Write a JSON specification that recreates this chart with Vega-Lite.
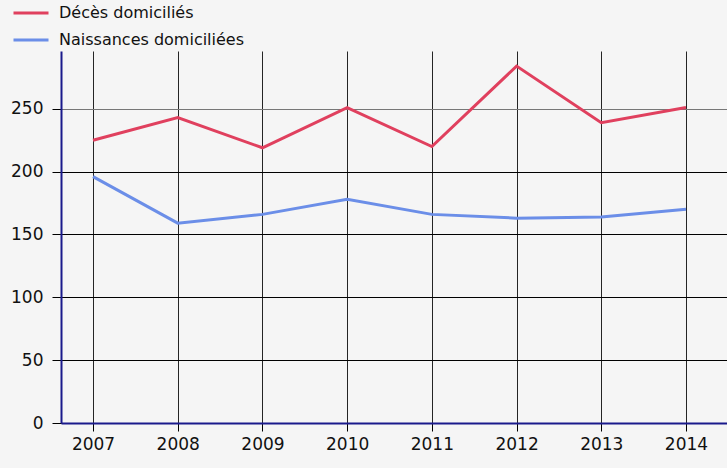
{
  "$schema": "https://vega.github.io/schema/vega-lite/v6.json",
  "autosize": "none",
  "width": 666,
  "height": 372,
  "padding": {"left": 61, "top": 51, "right": 0, "bottom": 45},
  "background": "#f5f5f5",
  "config": {
    "view": {"stroke": null},
    "font": "DejaVu Sans"
  },
  "data": {
    "values": [
      {"annee": 2007, "serie": "Décès domiciliés", "valeur": 225},
      {"annee": 2008, "serie": "Décès domiciliés", "valeur": 243},
      {"annee": 2009, "serie": "Décès domiciliés", "valeur": 219},
      {"annee": 2010, "serie": "Décès domiciliés", "valeur": 251},
      {"annee": 2011, "serie": "Décès domiciliés", "valeur": 220},
      {"annee": 2012, "serie": "Décès domiciliés", "valeur": 284},
      {"annee": 2013, "serie": "Décès domiciliés", "valeur": 239},
      {"annee": 2014, "serie": "Décès domiciliés", "valeur": 251},
      {"annee": 2007, "serie": "Naissances domiciliées", "valeur": 196},
      {"annee": 2008, "serie": "Naissances domiciliées", "valeur": 159},
      {"annee": 2009, "serie": "Naissances domiciliées", "valeur": 166},
      {"annee": 2010, "serie": "Naissances domiciliées", "valeur": 178},
      {"annee": 2011, "serie": "Naissances domiciliées", "valeur": 166},
      {"annee": 2012, "serie": "Naissances domiciliées", "valeur": 163},
      {"annee": 2013, "serie": "Naissances domiciliées", "valeur": 164},
      {"annee": 2014, "serie": "Naissances domiciliées", "valeur": 170}
    ]
  },
  "mark": {"type": "line", "strokeWidth": 3},
  "encoding": {
    "x": {
      "field": "annee",
      "type": "quantitative",
      "scale": {"domain": [2006.622, 2014.484], "nice": false, "zero": false},
      "axis": {
        "title": null,
        "values": [2007, 2008, 2009, 2010, 2011, 2012, 2013, 2014],
        "format": "d",
        "domainColor": "#1a1a8c",
        "domainWidth": 2,
        "tickColor": "#000",
        "tickSize": 8,
        "tickWidth": 1,
        "gridColor": "#000",
        "gridWidth": 1,
        "gridOpacity": 0.85,
        "labelFontSize": 17,
        "labelColor": "#111",
        "labelPadding": 5,
        "labelFlush": false
      }
    },
    "y": {
      "field": "valeur",
      "type": "quantitative",
      "scale": {"domain": [0, 296], "nice": false},
      "axis": {
        "title": null,
        "values": [0, 50, 100, 150, 200, 250],
        "domainColor": "#1a1a8c",
        "domainWidth": 2,
        "tickColor": "#000",
        "tickSize": 9,
        "gridColor": {"condition": {"test": "datum.value == 250", "value": "#777"}, "value": "#000"},
        "gridWidth": 1,
        "labelFontSize": 17,
        "labelColor": "#111",
        "labelPadding": 9
      }
    },
    "color": {
      "field": "serie",
      "type": "nominal",
      "scale": {
        "domain": ["Décès domiciliés", "Naissances domiciliées"],
        "range": ["#e0405e", "#6b8ee8"]
      },
      "legend": {
        "title": null,
        "orient": "none",
        "legendX": -49,
        "legendY": -57,
        "symbolType": "stroke",
        "symbolSize": 1225,
        "symbolStrokeWidth": 3,
        "labelFontSize": 16,
        "labelColor": "#111",
        "labelLimit": 0,
        "rowPadding": -2,
        "labelOffset": 9,
        "padding": 0
      }
    }
  }
}
